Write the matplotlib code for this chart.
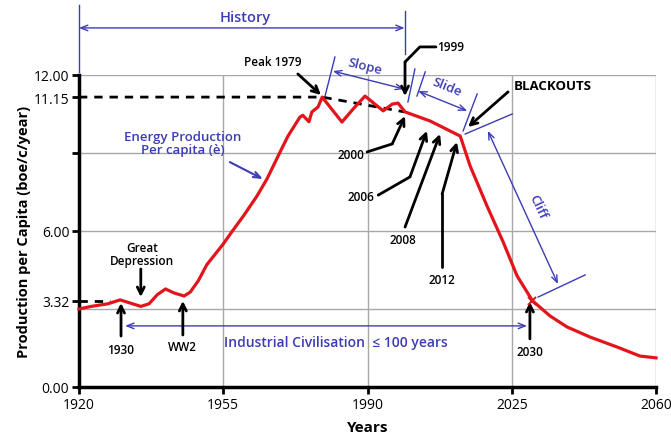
# energy production per capita chart (Olduvai style)
import numpy as np
import matplotlib.pyplot as plt

plt.rcParams['font.family'] = ['Open Sans', 'DejaVu Sans']

# ---------------- data ----------------
years = [1920, 1923, 1927, 1930, 1932, 1935, 1937, 1939, 1941, 1943, 1945.5,
         1947, 1949, 1951, 1953, 1955, 1957, 1960, 1963.2, 1965.6, 1968.8,
         1970.7, 1973.6, 1974.3, 1975.8, 1976.5, 1978, 1979, 1983.8, 1986.5,
         1989.4, 1993.8, 1996, 1997.4, 1999.1, 2005.2, 2012.5, 2014.9, 2019,
         2022.9, 2026.3, 2030, 2034.3, 2038.4, 2044, 2050.5, 2056.1, 2060]
energy = [3.0, 3.1, 3.2, 3.35, 3.25, 3.1, 3.2, 3.55, 3.77, 3.62, 3.5,
          3.65, 4.1, 4.7, 5.1, 5.5, 5.95, 6.6, 7.35, 8.0, 9.04,
          9.65, 10.38, 10.45, 10.2, 10.58, 10.77, 11.15, 10.19, 10.69,
          11.19, 10.62, 10.88, 10.92, 10.58, 10.23, 9.65, 8.5, 6.96,
          5.58, 4.27, 3.32, 2.73, 2.31, 1.92, 1.54, 1.19, 1.12]

peak_x = [1920, 1979, 1999]        # dashed reference line (peak then slope)
peak_y = [11.15, 11.15, 10.58]
low_x = [1920, 1927.5]             # dashed 1930 level
low_y = [3.32, 3.32]

xticks = [1920, 1955, 1990, 2025, 2060]
yticks = [0, 3.32, 6, 9, 11.15, 12]
ylabels = ['0.00', '3.32', '6.00', '', '11.15', '12.00']
grid_x = [1955, 1990, 2025, 2060]
grid_y = [3, 6, 9, 12]

red = '#e3151c'
blue = '#3c3cb4'

fig = plt.figure(figsize=(6.71, 4.39), dpi=100)
ax = fig.add_axes([0.1177, 0.1162, 0.86, 0.7107])
ax.set_xlim(1920, 2060)
ax.set_ylim(0, 12)

# light grid
for g in grid_x:
    ax.axvline(g, color='#a8a8a8', lw=1, zorder=0)
for g in grid_y:
    ax.axhline(g, color='#a8a8a8', lw=1, zorder=0)

# curve + dashed lines
ax.plot(years, energy, color=red, lw=2.3, zorder=3, clip_on=False)
ax.plot(peak_x, peak_y, color='black', lw=2, ls=(0, (3, 2.5)), zorder=2)
ax.plot(low_x, low_y, color='black', lw=2, ls=(0, (3, 2.5)), zorder=2)
ax.plot([2030], [3.32], marker='x', color=red, ms=6, mew=1.5, zorder=4)

# axes styling
for s in ['top', 'right']:
    ax.spines[s].set_visible(False)
for s in ['left', 'bottom']:
    ax.spines[s].set_linewidth(2.5)
ax.set_xticks(xticks)
ax.set_yticks(yticks)
ax.set_yticklabels(ylabels)
ax.tick_params(direction='out', length=5, width=2, labelsize=10, pad=2)
ax.set_xlabel('Years', fontsize=11, fontweight='bold', labelpad=6)
ax.set_ylabel('Production per Capita (boe/c/year)', fontsize=10.5,
              fontweight='bold', labelpad=2)

# helpers for arrows
def barrow(p0, p1, style='<->', lw=1):
    ax.annotate('', xy=p1, xytext=p0, annotation_clip=False,
                arrowprops=dict(arrowstyle=style + ',head_length=0.5,head_width=0.2',
                                color=blue, lw=lw, shrinkA=0, shrinkB=0))

def bline(xs, ys):
    ax.plot(xs, ys, color=blue, lw=1, clip_on=False)

def karrow(path):
    # black polyline with arrowhead at the end
    xs = [p[0] for p in path]
    ys = [p[1] for p in path]
    if len(path) > 2:
        ax.plot(xs[:-1], ys[:-1], color='black', lw=2, clip_on=False,
                solid_capstyle='round', solid_joinstyle='round')
    ax.annotate('', xy=path[-1], xytext=path[-2], annotation_clip=False,
                arrowprops=dict(arrowstyle='->,head_length=0.5,head_width=0.25',
                                color='black', lw=2, shrinkA=0, shrinkB=0))

# History
bline([1920, 1920], [12.1, 14.7])
bline([1999, 1999], [12.8, 14.45])
barrow((1920, 13.81), (1999, 13.81))
ax.text(1960.3, 14.23, 'History', color=blue, fontsize=10.5, ha='center',
        va='center', fontweight='semibold')

# Slope
bline([1982.1, 1979.7], [12.69, 11.19])
barrow((1981.6, 12.15), (1998.9, 11.46))
ax.text(1989.4, 12.33, 'Slope', color=blue, fontsize=9.5, rotation=-14,
        ha='center', va='center', fontweight='semibold')

# Slide
bline([2001.5, 1999.8], [12.23, 10.96])
bline([2004, 2002], [12.12, 11.19])
bline([2016.6, 2013.2], [11.27, 9.85])
barrow((2002.3, 11.38), (2014.2, 10.62))
ax.text(2009.3, 11.56, 'Slide', color=blue, fontsize=9.5, rotation=-22,
        ha='center', va='center', fontweight='semibold')

# Cliff
bline([2013.7, 2025.1], [9.73, 10.5])
bline([2031.4, 2042.8], [3.46, 4.31])
barrow((2019.2, 9.85), (2036.2, 3.96))
ax.text(2031.3, 6.96, 'Cliff', color=blue, fontsize=9.5, rotation=-65,
        ha='center', va='center', fontweight='semibold')

# Industrial civilisation
barrow((1931.2, 2.35), (2028.7, 2.35))
ax.text(1982.4, 1.73, 'Industrial Civilisation  \u2264 100 years', color=blue,
        fontsize=10, ha='center', va='center', fontweight='semibold')

# Energy production label
ax.text(1945.2, 9.38, 'Energy Production\nPer capita (\u00e8)', color=blue,
        fontsize=9.5, ha='center', va='center', linespacing=1.0,
        fontweight='semibold')
barrow((1956.6, 8.65), (1964.6, 8.0), style='->', lw=1.5)

# black annotations
ax.text(1967.1, 12.5, 'Peak 1979', fontsize=8.5, ha='center', va='center',
        fontweight='semibold')
karrow([(1973.1, 12.04), (1978.7, 11.23)])

ax.text(2006.9, 13.08, '1999', fontsize=8.5, ha='left', va='center',
        fontweight='semibold')
karrow([(2006.6, 13.08), (2002.7, 13.08), (1999.1, 12.5), (1999.1, 11.19)])

ax.text(1986.0, 8.96, '2000', fontsize=8.5, ha='center', va='center',
        fontweight='semibold')
karrow([(1989.9, 9.04), (1996, 9.35), (1999.1, 10.42)])

ax.text(1988.4, 7.31, '2006', fontsize=8.5, ha='center', va='center',
        fontweight='semibold')
karrow([(1992.6, 7.38), (2000.3, 8.08), (2004.4, 9.85)])

ax.text(1998.6, 5.69, '2008', fontsize=8.5, ha='center', va='center',
        fontweight='semibold')
karrow([(1999.1, 6.15), (2007.6, 9.73)])

ax.text(2008.1, 4.12, '2012', fontsize=8.5, ha='center', va='center',
        fontweight='semibold')
karrow([(2008.1, 4.62), (2008.1, 7.42), (2011.7, 9.42)])

ax.text(2035.0, 11.58, 'BLACKOUTS', fontsize=9.5, ha='center', va='center',
        fontweight='bold')
karrow([(2024.1, 11.35), (2014.4, 10.0)])

ax.text(1935.3, 5.12, 'Great\nDepression', fontsize=8.5, ha='center',
        va='center', linespacing=1.0, fontweight='semibold')
karrow([(1935.0, 4.54), (1935.0, 3.46)])

ax.text(1930.2, 1.46, '1930', fontsize=8.5, ha='center', va='center',
        fontweight='semibold')
karrow([(1930.2, 1.96), (1930.2, 3.23)])

ax.text(1945.2, 1.54, 'WW2', fontsize=8.5, ha='center', va='center',
        fontweight='semibold')
karrow([(1945.2, 2.0), (1945.2, 3.31)])

ax.text(2029.4, 1.38, '2030', fontsize=8.5, ha='center', va='center',
        fontweight='semibold')
karrow([(2029.4, 1.85), (2029.4, 3.27)])

fig.savefig('out.png', dpi=100)
